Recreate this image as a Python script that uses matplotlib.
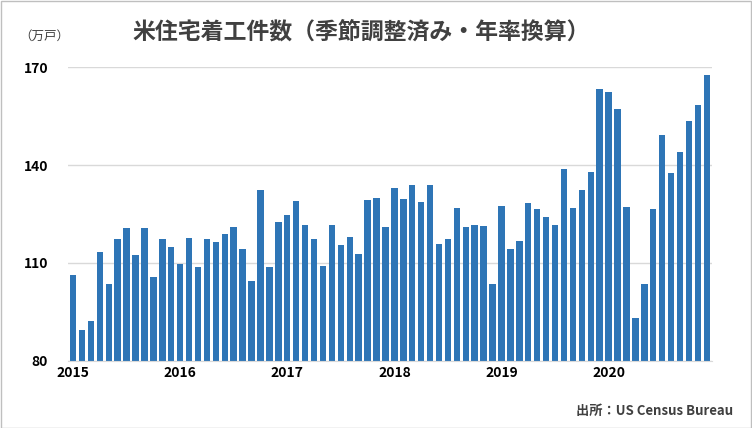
import numpy as np
import matplotlib.pyplot as plt

plt.rcParams['font.family'] = ['Noto Sans CJK JP', 'DejaVu Sans']

years = ["2015", "2016", "2017", "2018", "2019", "2020"]
starts = [106.3, 89.5, 92.2, 113.4, 103.6, 117.3, 120.7, 112.5, 120.7, 105.7, 117.3, 114.9,
          109.7, 117.6, 108.8, 117.3, 116.4, 118.9, 121.0, 114.3, 104.5, 132.3, 108.8, 122.5,
          124.7, 129.0, 121.6, 117.3, 109.1, 121.6, 115.5, 118.0, 112.8, 129.3, 129.9, 121.0,
          133.0, 129.6, 133.9, 128.7, 133.9, 115.8, 117.3, 126.8, 121.0, 121.6, 121.3, 103.6,
          127.4, 114.3, 116.7, 128.4, 126.5, 124.0, 121.6, 138.8, 126.8, 132.3, 137.9, 163.3,
          162.3, 157.1, 127.1, 93.2, 103.6, 126.5, 149.2, 137.5, 144.0, 153.5, 158.4, 167.5]

fig = plt.figure(figsize=(7.52, 4.28), dpi=100)
ax = fig.add_axes([0.090, 0.157, 0.857, 0.686])
x = np.arange(len(starts))
ax.bar(x, starts, width=0.72, color="#2E75B6", zorder=2)
ax.set_ylim(80, 170)
ax.set_xlim(-0.6, len(starts) - 0.4)
ax.set_yticks([80, 110, 140, 170])
ax.set_xticks(np.arange(0, 72, 12))
ax.set_xticklabels(years)
ax.tick_params(axis="y", length=0, labelsize=10, pad=14)
ax.tick_params(axis="x", length=0, labelsize=10)
for lab in ax.get_xticklabels() + ax.get_yticklabels():
    lab.set_fontweight("bold")
ax.yaxis.grid(True, color="#D9D9D9", linewidth=1, zorder=0)
for s in ["top", "right", "left"]:
    ax.spines[s].set_visible(False)
ax.spines["bottom"].set_color("#D9D9D9")

fig.text(0.48, 0.925, "米住宅着工件数（季節調整済み・年率換算）", ha="center", va="center",
         fontsize=16.5, fontweight="bold", color="#404040")
fig.text(0.025, 0.915, "（万戸）", fontsize=9, va="center", color="#404040")
fig.text(0.975, 0.04, "出所：US Census Bureau", ha="right", va="center",
         fontsize=9.5, fontweight="bold", color="#404040")
fig.patches.append(plt.Rectangle((0.001, 0.001), 0.998, 0.997, transform=fig.transFigure,
                                 fill=False, edgecolor="#BFBFBF", linewidth=1))
fig.savefig("out.png", dpi=100)
